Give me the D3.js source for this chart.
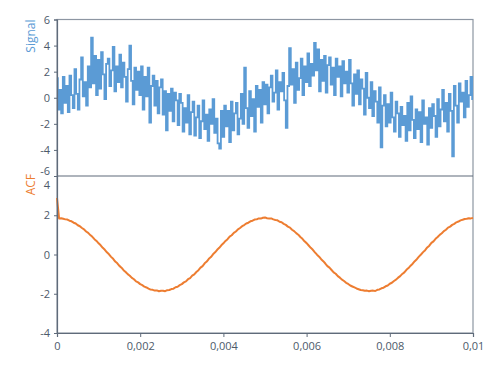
<!DOCTYPE html>
<html>
<head>
<meta charset="utf-8">
<title>Signal and ACF</title>
<style>
  body { margin: 0; background: #fff; }
  text { font-family: "Open Sans", sans-serif; }
</style>
</head>
<body>
<div id="chart"></div>
<script src="https://cdn.jsdelivr.net/npm/d3@7"></script>
<script>
  const width = 491
  const height = 378

  // signal samples, 0 .. 0.01 s
  const signal = [
    1.5, -0.9, 0.6, -1.2, 1.6, -0.4, 0.9, -1.1, 1.7, 0.2, -0.8, 2.2, 0.3, -0.9, 1.4, 3.1, 0.1, 1.2, -0.6, 2.4, 0.8, 4.6, 1.1, 3.2, 0.2,
    2.9, 0.7, 3.5, 1.8, -0.1, 2.6, 3.0, 0.9, 2.1, 3.9, 0.5, 2.4, 1.2, 3.3, 0.8, 2.7, 1.6, -0.3, 2.2, 4.0, 1.3, -0.5, 2.3, 0.6, 2.0,
    0.2, 2.4, -0.9, 1.6, 0.1, 2.3, -1.9, 0.9, 1.7, -0.6, 1.3, -1.2, 0.8, 1.4, -1.3, 0.5, -2.5, 0.3, -1.0, 0.7, -1.8, 0.4, -0.2, -2.1, 0.3,
    -0.4, -2.6, -0.8, -1.9, 0.2, -2.8, -1.1, -0.3, -2.9, -1.5, -0.6, -3.1, -1.8, -0.2, -2.4, -1.3, -3.3, -0.9, -2.0, -0.1, -2.7, -1.6, -3.5, -3.9, -1.0,
    -3.0, -0.6, -2.2, -1.0, -3.4, -0.3, -2.5, -1.2, -0.4, -2.8, -1.6, 0.3, -2.0, 2.3, -0.8, -2.3, 0.5, -1.4, -0.1, -2.6, 0.9, -0.7, 0.6, -1.9, 1.2,
    -0.5, 1.0, -1.2, 0.8, 1.7, -0.3, 0.4, 2.1, -0.9, 1.2, 0.5, 1.9, -0.2, -2.3, 0.9, 3.8, 1.0, 2.2, -0.4, 2.7, 0.6, 1.5, 3.0, 0.2, 2.4,
    1.2, 3.4, 0.9, 2.6, 1.7, 4.2, 2.1, 3.7, 0.5, 2.9, 1.3, 3.2, 0.4, 2.5, 3.1, 1.0, 2.3, 0.2, 3.0, 1.6, 2.4, 0.1, 2.8, 1.1, 2.0,
    0.4, 2.9, 1.1, -0.6, 1.8, 0.3, 2.1, -0.5, 1.4, 0.7, -1.3, 1.9, 0.0, -0.8, 1.2, -1.4, 0.5, -0.3, -1.9, 0.8, -3.8, -0.6, 0.2, -2.2, -0.5,
    -1.9, 0.4, -1.5, -2.6, -0.3, -1.2, -3.0, -0.7, -2.1, -1.4, -3.3, -0.4, -2.5, 0.1, -1.7, -3.1, -0.9, -2.4, -1.1, -3.4, -0.2, -2.0, -1.5, -3.6, -0.8,
    -2.3, -0.5, -1.4, -3.0, -0.1, -2.2, -0.9, 0.6, -1.8, -0.4, -2.6, 0.3, -1.0, -4.5, 0.9, -0.6, -1.9, 1.1, -0.3, 0.4, -1.5, 1.3, -0.7, 0.2, 1.6, -0.1
  ]

  // autocorrelation, lags 0 .. 0.01 s
  const acf = [
    2.88,
    1.84, 1.85, 1.82, 1.79, 1.78, 1.72, 1.69, 1.62, 1.58, 1.49, 1.44, 1.35, 1.28, 1.17, 1.10, 0.99, 0.90, 0.78, 0.69, 0.57, 0.47, 0.34, 0.24, 0.11, 0.01,
    -0.12, -0.22, -0.36, -0.45, -0.58, -0.67, -0.80, -0.89, -1.00, -1.08, -1.19, -1.26, -1.37, -1.42, -1.51, -1.56, -1.64, -1.68, -1.74, -1.79, -1.80, -1.84, -1.83, -1.87, -1.85,
    -1.85, -1.87, -1.82, -1.81, -1.76, -1.74, -1.67, -1.64, -1.56, -1.51, -1.42, -1.37, -1.26, -1.20, -1.08, -1.01, -0.89, -0.80, -0.67, -0.59, -0.45, -0.36, -0.22, -0.13, 0.01,
    0.11, 0.24, 0.34, 0.47, 0.57, 0.69, 0.78, 0.91, 0.98, 1.10, 1.17, 1.28, 1.35, 1.44, 1.50, 1.58, 1.62, 1.69, 1.72, 1.78, 1.79, 1.84, 1.83, 1.87, 1.89,
    1.85, 1.83, 1.84, 1.79, 1.76, 1.74, 1.67, 1.64, 1.56, 1.51, 1.42, 1.37, 1.26, 1.19, 1.09, 1.01, 0.89, 0.80, 0.67, 0.58, 0.46, 0.34, 0.24, 0.11, -0.01,
    -0.11, -0.24, -0.34, -0.46, -0.59, -0.67, -0.79, -0.91, -0.98, -1.10, -1.18, -1.28, -1.35, -1.44, -1.50, -1.58, -1.63, -1.68, -1.73, -1.77, -1.81, -1.82, -1.85, -1.84, -1.87,
    -1.85, -1.84, -1.86, -1.80, -1.78, -1.72, -1.69, -1.62, -1.58, -1.49, -1.44, -1.35, -1.28, -1.18, -1.10, -0.99, -0.91, -0.78, -0.69, -0.57, -0.47, -0.34, -0.24, -0.11, 0.00,
    0.12, 0.22, 0.36, 0.45, 0.59, 0.67, 0.80, 0.89, 1.00, 1.08, 1.19, 1.26, 1.37, 1.42, 1.51, 1.56, 1.64, 1.68, 1.74, 1.77, 1.81, 1.82, 1.85, 1.84, 1.86
  ]

  const xTicks = [0, 0.002, 0.004, 0.006, 0.008, 0.01]
  const signalTicks = [-6, -4, -2, 0, 2, 4, 6]
  const acfTicks = [-4, -2, 0, 2, 4]
  const tEnd = 0.01

  const blue = "#5b9bd5"
  const orange = "#ed7d31"
  const axisColor = "#5f6b7a"
  const textColor = "#4d5a6a"

  const left = 57, right = 473
  const top1 = 19.5, bot1 = 176
  const top2 = 176, bot2 = 333

  const svg = d3.select("#chart").append("svg")
    .attr("width", width)
    .attr("height", height)

  const x = d3.scaleLinear().domain([0, tEnd]).range([left, right])
  const y1 = d3.scaleLinear().domain([-6, 6]).range([bot1, top1])
  const y2 = d3.scaleLinear().domain([-4, 4]).range([bot2, top2])

  const fmt = d => d === 0 ? "0" : String(d).replace(".", ",")

  // frames
  svg.append("rect")
    .attr("x", left).attr("y", top1)
    .attr("width", right - left).attr("height", bot2 - top1)
    .attr("fill", "none").attr("stroke", "#8d96a2").attr("stroke-width", 1.2)
  svg.append("line")
    .attr("x1", left).attr("x2", right).attr("y1", bot1).attr("y2", bot1)
    .attr("stroke", axisColor).attr("stroke-width", 1.2)

  // lines
  const sigLine = d3.line()
    .curve(d3.curveStep)
    .x((d, i) => x(i * tEnd / (signal.length - 1)))
    .y(d => y1(d))
  const acfLine = d3.line()
    .x((d, i) => x(i * tEnd / (acf.length - 1)))
    .y(d => y2(d))

  svg.append("path").datum(signal)
    .attr("d", sigLine)
    .attr("fill", "none").attr("stroke", blue).attr("stroke-width", 1.8)
  svg.append("path").datum(acf)
    .attr("d", acfLine)
    .attr("fill", "none").attr("stroke", orange).attr("stroke-width", 2)
    .attr("stroke-linejoin", "round")

  // axes
  function styleAxis(g) {
    g.select(".domain").attr("stroke", axisColor).attr("stroke-width", 1.2)
    g.selectAll(".tick line").attr("stroke", axisColor)
    g.selectAll(".tick text").attr("fill", textColor).style("font-size", "11px")
  }

  const ax1 = svg.append("g")
    .attr("transform", `translate(${left},0)`)
    .call(d3.axisLeft(y1).tickValues(signalTicks).tickSize(3).tickPadding(4).tickFormat(fmt))
    .call(styleAxis)
  ax1.selectAll(".tick text").filter(d => d === -6).attr("dy", "-0.15em")

  const ax2 = svg.append("g")
    .attr("transform", `translate(${left},0)`)
    .call(d3.axisLeft(y2).tickValues(acfTicks).tickSize(3).tickPadding(4).tickFormat(fmt))
    .call(styleAxis)
  ax2.selectAll(".tick text").filter(d => d === 4).attr("dy", "1.15em")

  svg.append("g")
    .attr("transform", `translate(0,${bot2})`)
    .call(d3.axisBottom(x).tickValues(xTicks).tickSize(4).tickPadding(5).tickFormat(fmt))
    .call(styleAxis)

  // axis titles
  svg.append("text")
    .attr("transform", `translate(35,${top1}) rotate(-90)`)
    .attr("text-anchor", "end")
    .attr("fill", blue)
    .style("font-size", "12px")
    .text("Signal")
  svg.append("text")
    .attr("transform", `translate(35,${top2 - 2}) rotate(-90)`)
    .attr("text-anchor", "end")
    .attr("fill", orange)
    .style("font-size", "12px")
    .text("ACF")
</script>
</body>
</html>
